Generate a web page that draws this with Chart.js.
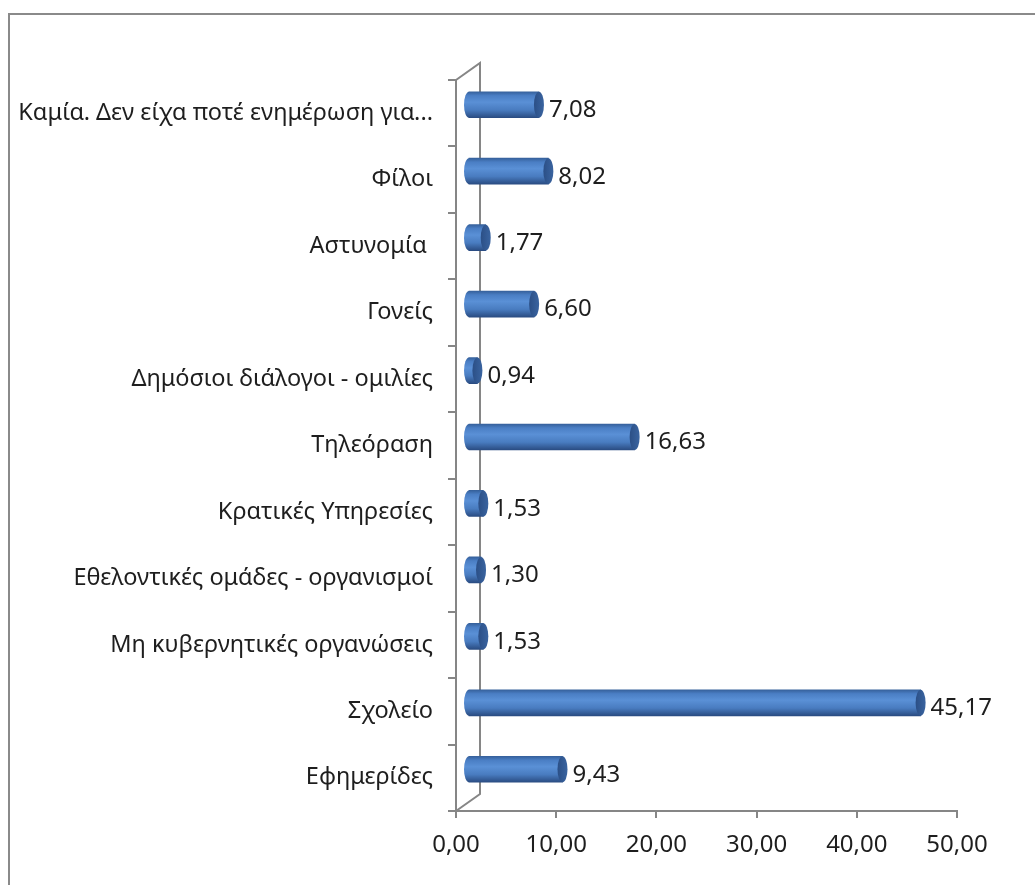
<!DOCTYPE html>
<html>
<head>
<meta charset="utf-8">
<script src="https://cdn.jsdelivr.net/npm/chart.js@4.4.1/dist/chart.umd.min.js"></script>
<style>
  html, body { margin: 0; padding: 0; background: #fff; }
  #wrap { width: 1035px; height: 885px; }
</style>
</head>
<body>
<div id="wrap"><canvas id="chart" width="1035" height="885"></canvas></div>
<script>
// ===== data (top to bottom) =====
const categories = [
    'Καμία. Δεν είχα ποτέ ενημέρωση για...',
    'Φίλοι',
    'Αστυνομία ',
    'Γονείς',
    'Δημόσιοι διάλογοι - ομιλίες',
    'Τηλεόραση',
    'Κρατικές Υπηρεσίες',
    'Εθελοντικές ομάδες - οργανισμοί',
    'Μη κυβερνητικές οργανώσεις',
    'Σχολείο',
    'Εφημερίδες'
];
const values = [7.08, 8.02, 1.77, 6.60, 0.94, 16.63, 1.53, 1.30, 1.53, 45.17, 9.43];
const xMin = 0;
const xMax = 50;
const xStep = 10;

// ===== look =====
const AXIS_GREY = '#868686';
const TEXT_COLOR = '#1e1e1e';
const FONT = 'Noto Sans';
const DEPTH_X = 24, DEPTH_Y = -17;   // 3d wall depth
const BAR_H = 26;
const CAP_RX = 5;

function fmt(v) {
    return v.toFixed(2).replace('.', ',');
}

function barGradient(ctx, cy) {
    const g = ctx.createLinearGradient(0, cy - BAR_H / 2, 0, cy + BAR_H / 2);
    g.addColorStop(0, '#36619c');
    g.addColorStop(0.15, '#4a7ec4');
    g.addColorStop(0.4, '#5a90d6');
    g.addColorStop(0.7, '#497cc0');
    g.addColorStop(1, '#2a4c82');
    return g;
}

// ===== frame, 3d wall, cylinder caps and value labels =====
const look3d = {
    id: 'look3d',
    beforeDraw(chart) {
        const ctx = chart.ctx;
        const a = chart.chartArea;
        ctx.save();
        ctx.fillStyle = '#fff';
        ctx.fillRect(0, 0, chart.width, chart.height);
        // outer frame
        ctx.strokeStyle = '#8a8a8a';
        ctx.lineWidth = 2;
        ctx.beginPath();
        ctx.moveTo(9, chart.height + 2);
        ctx.lineTo(9, 14);
        ctx.lineTo(chart.width + 2, 14);
        ctx.stroke();
        // back wall
        ctx.strokeStyle = AXIS_GREY;
        ctx.lineWidth = 2;
        ctx.beginPath();
        ctx.moveTo(a.left, a.top);
        ctx.lineTo(a.left + DEPTH_X, a.top + DEPTH_Y);
        ctx.lineTo(a.left + DEPTH_X, a.bottom + DEPTH_Y);
        ctx.lineTo(a.left, a.bottom);
        ctx.stroke();
        ctx.restore();
    },
    beforeDatasetsDraw(chart) {
        chart.ctx.save();
        chart.ctx.translate(DEPTH_X / 2, DEPTH_Y / 2);
    },
    afterDatasetsDraw(chart) {
        const ctx = chart.ctx;
        const meta = chart.getDatasetMeta(0);
        meta.data.forEach((el) => {
            const p = el.getProps(['x', 'y', 'base', 'height'], true);
            if (!isFinite(p.x) || !isFinite(p.y)) return;
            const ry = BAR_H / 2;
            // back end of the cylinder
            ctx.beginPath();
            ctx.ellipse(p.base, p.y, CAP_RX, ry, 0, Math.PI / 2, Math.PI * 1.5);
            ctx.closePath();
            ctx.fillStyle = barGradient(ctx, p.y);
            ctx.fill();
            // front cap
            const cg = ctx.createLinearGradient(p.x - CAP_RX, 0, p.x + CAP_RX, 0);
            cg.addColorStop(0, '#2b4f86');
            cg.addColorStop(1, '#3a64a0');
            ctx.beginPath();
            ctx.ellipse(p.x, p.y, CAP_RX, ry, 0, 0, Math.PI * 2);
            ctx.fillStyle = cg;
            ctx.fill();
        });
        ctx.restore();

        // value labels
        ctx.save();
        ctx.font = '24px "' + FONT + '"';
        ctx.fillStyle = TEXT_COLOR;
        ctx.textAlign = 'left';
        ctx.textBaseline = 'middle';
        meta.data.forEach((el, i) => {
            const p = el.getProps(['x', 'y'], true);
            ctx.fillText(fmt(values[i]), p.x + DEPTH_X / 2 + CAP_RX + 5, p.y - 3);
        });
        ctx.restore();
    }
};

const ctx = document.getElementById('chart').getContext('2d');
new Chart(ctx, {
    type: 'bar',
    data: {
        labels: categories,
        datasets: [{
            data: values,
            backgroundColor: function(context) {
                const chart = context.chart;
                const yScale = chart.scales.y;
                if (!yScale || context.type !== 'data') return '#4f81bd';
                const cy = yScale.getPixelForValue(context.dataIndex);
                if (!isFinite(cy)) return '#4f81bd';
                return barGradient(chart.ctx, cy);
            },
            borderWidth: 0,
            barThickness: BAR_H
        }]
    },
    options: {
        indexAxis: 'y',
        responsive: false,
        animation: false,
        layout: {
            padding: { top: 80, right: 78, left: 0, bottom: 0 }
        },
        plugins: {
            legend: { display: false },
            tooltip: { enabled: false }
        },
        scales: {
            x: {
                min: xMin,
                max: xMax,
                ticks: {
                    stepSize: xStep,
                    padding: 13,
                    color: TEXT_COLOR,
                    font: { family: FONT, size: 24 },
                    callback: (v) => fmt(v)
                },
                grid: {
                    drawOnChartArea: false,
                    drawTicks: true,
                    tickLength: 7,
                    color: AXIS_GREY,
                    lineWidth: 2
                },
                border: { display: true, color: AXIS_GREY, width: 2 },
                afterFit: (scale) => { scale.height = 74; }
            },
            y: {
                ticks: {
                    padding: 15,
                    color: TEXT_COLOR,
                    font: { family: FONT, size: 23.5 }
                },
                grid: {
                    offset: true,
                    drawOnChartArea: false,
                    drawTicks: true,
                    tickLength: 8,
                    color: AXIS_GREY,
                    lineWidth: 2
                },
                border: { display: true, color: AXIS_GREY, width: 2 },
                afterFit: (scale) => { scale.width = 456; }
            }
        }
    },
    plugins: [look3d]
});
</script>
</body>
</html>
